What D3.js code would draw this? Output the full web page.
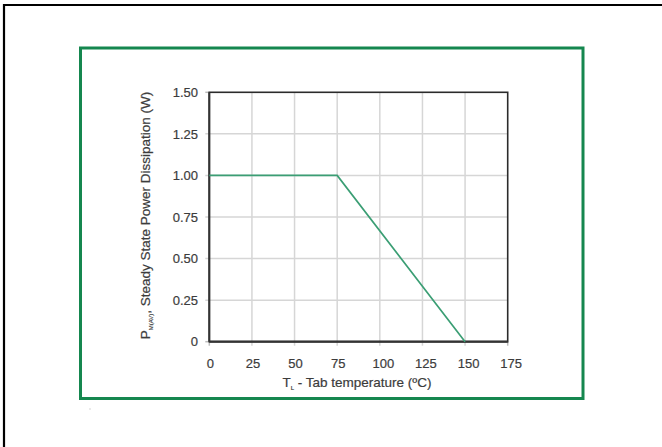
<!DOCTYPE html>
<html><head><meta charset="utf-8">
<script src="https://cdn.jsdelivr.net/npm/d3@7"></script>
<style>body{margin:0;background:#fff;}svg{display:block;}</style>
</head><body>
<script>
const temps = [0, 75, 150];
const power = [1.0, 1.0, 0.0];
const xTicks = [0, 25, 50, 75, 100, 125, 150, 175];
const yTicks = [0, 0.25, 0.5, 0.75, 1.0, 1.25, 1.5];
const yTickLabels = ["0", "0.25", "0.50", "0.75", "1.00", "1.25", "1.50"];

const W = 662, H = 447;
const svg = d3.select("body").append("svg").attr("width", W).attr("height", H);

// outer black frame (top & left only visible)
svg.append("path").attr("d", "M4,700 L4,5 L700,5").attr("fill", "none").attr("stroke", "#000").attr("stroke-width", 2.2);
// green frame
svg.append("rect").attr("x", 80.5).attr("y", 48).attr("width", 502.5).attr("height", 350.5)
  .attr("fill", "none").attr("stroke", "#15874f").attr("stroke-width", 3);
svg.append("rect").attr("x", 89.5).attr("y", 408.5).attr("width", 1).attr("height", 1).attr("fill", "#aaa");

const x = d3.scaleLinear().domain([0, 175]).range([209.3, 507.7]);
const y = d3.scaleLinear().domain([0, 1.5]).range([341.7, 92.3]);

const g = svg.append("g");
// grid
g.selectAll(".vg").data(xTicks.slice(1, -1)).join("line")
  .attr("x1", d => x(d)).attr("x2", d => x(d)).attr("y1", y(1.5)).attr("y2", y(0) + 4)
  .attr("stroke", "#d6d6d6").attr("stroke-width", 1.5);
g.selectAll(".hg").data(yTicks.slice(1, -1)).join("line")
  .attr("x1", x(0) - 4).attr("x2", x(175)).attr("y1", d => y(d)).attr("y2", d => y(d))
  .attr("stroke", "#d6d6d6").attr("stroke-width", 1.5);
// end ticks
g.append("line").attr("x1", x(0)-4).attr("x2", x(0)).attr("y1", y(0)).attr("y2", y(0)).attr("stroke", "#bbb").attr("stroke-width", 1.5);
g.append("line").attr("x1", x(0)).attr("x2", x(0)).attr("y1", y(0)).attr("y2", y(0)+4).attr("stroke", "#bbb").attr("stroke-width", 1.5);
g.append("line").attr("x1", x(175)).attr("x2", x(175)).attr("y1", y(0)).attr("y2", y(0)+4).attr("stroke", "#bbb").attr("stroke-width", 1.5);
g.append("line").attr("x1", x(0)-4).attr("x2", x(0)).attr("y1", y(1.5)).attr("y2", y(1.5)).attr("stroke", "#bbb").attr("stroke-width", 1.5);

// plot border
g.append("rect").attr("x", x(0)).attr("y", y(1.5)).attr("width", x(175) - x(0)).attr("height", y(0) - y(1.5))
  .attr("fill", "none").attr("stroke", "#2b2b2b").attr("stroke-width", 1.6);
g.append("line").attr("x1", x(0)).attr("x2", x(175)).attr("y1", y(0)).attr("y2", y(0)).attr("stroke", "#333").attr("stroke-width", 2.2);
g.append("line").attr("x1", x(0)).attr("x2", x(0)).attr("y1", y(0)).attr("y2", y(1.5)).attr("stroke", "#333").attr("stroke-width", 2);

// data line
const pts = temps.map((t, i) => [t, power[i]]);
g.append("path").datum(pts)
  .attr("d", d3.line().x(d => x(d[0])).y(d => y(d[1])))
  .attr("fill", "none").attr("stroke", "#3b9e74").attr("stroke-width", 1.7);

const font = "'Liberation Sans', Arial, sans-serif";
const txtCol = "#3c3c3c";
// tick labels
g.selectAll(".yl").data(yTicks).join("text")
  .attr("x", 198).attr("y", d => y(d) + 4.7).attr("text-anchor", "end")
  .attr("font-family", font).attr("font-size", 13).attr("fill", txtCol)
  .attr("stroke", txtCol).attr("stroke-width", 0.2)
  .text((d, i) => yTickLabels[i]);
g.selectAll(".xl").data(xTicks).join("text")
  .attr("x", d => x(d)).attr("dx", d => d >= 100 ? 3.5 : 1).attr("y", 368).attr("text-anchor", "middle")
  .attr("font-family", font).attr("font-size", 13).attr("fill", txtCol)
  .attr("stroke", txtCol).attr("stroke-width", 0.2)
  .text(d => d);

// x title
const xt = svg.append("text").attr("x", 357).attr("y", 386.5).attr("text-anchor", "middle")
  .attr("font-family", font).attr("font-size", 13.5).attr("fill", txtCol)
  .attr("stroke", txtCol).attr("stroke-width", 0.2);
xt.append("tspan").text("T");
xt.append("tspan").attr("font-size", 6).attr("dy", 3).text("L");
xt.append("tspan").attr("dy", -3).text(" - Tab temperature (ºC)");

// y title
const yt = svg.append("text").attr("transform", "translate(150,215.5) rotate(-90)").attr("text-anchor", "middle")
  .attr("font-family", font).attr("font-size", 13.5).attr("fill", txtCol)
  .attr("stroke", txtCol).attr("stroke-width", 0.2);
yt.append("tspan").text("P");
yt.append("tspan").attr("font-size", 6).attr("dy", 3).text("M(AV)");
yt.append("tspan").attr("dy", -3).text(", Steady State Power Dissipation (W)");
</script>
</body></html>
